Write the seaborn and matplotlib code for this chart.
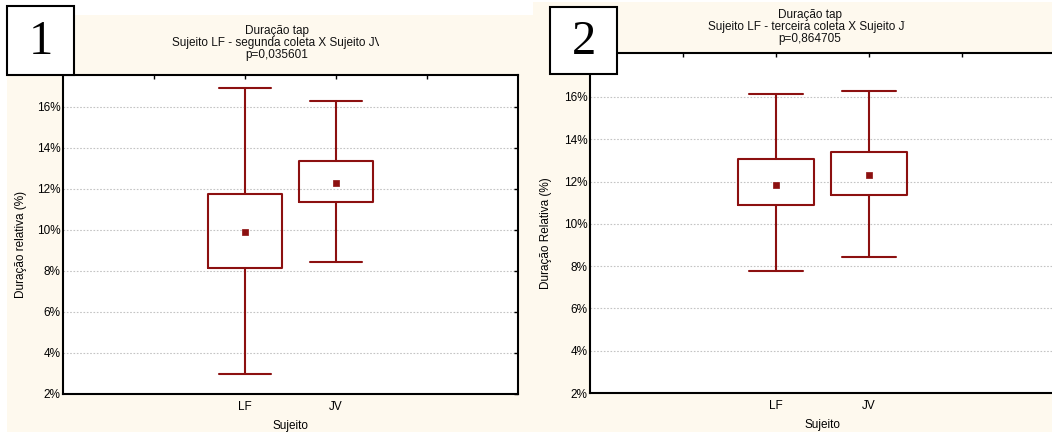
import numpy as np
import matplotlib
matplotlib.use("Agg")
import matplotlib.pyplot as plt
import seaborn as sns
from matplotlib.patches import Rectangle
from matplotlib.ticker import FuncFormatter
from matplotlib.transforms import Bbox, TransformedBbox

# ---------------- data ----------------
categories = ["LF", "JV"]

p1_mean = [9.9, 12.3]
p1_box_low = [8.15, 11.37]
p1_box_high = [11.77, 13.37]
p1_whisk_low = [2.98, 8.45]
p1_whisk_high = [16.9, 16.28]

p2_mean = [11.85, 12.3]
p2_box_low = [10.88, 11.37]
p2_box_high = [13.05, 13.38]
p2_whisk_low = [7.75, 8.45]
p2_whisk_high = [16.15, 16.3]

y_ticks = [2, 4, 6, 8, 10, 12, 14, 16]

p1_title = ["Duração tap", "Sujeito LF - segunda coleta X Sujeito JV", "p=0,035601"]
p2_title = ["Duração tap", "Sujeito LF - terceira coleta X Sujeito JV", "p=0,864705"]
p1_ylabel = "Duração relativa (%)"
p2_ylabel = "Duração Relativa (%)"
x_label = "Sujeito"

# ---------------- style ----------------
sns.set_theme(style="white")
plt.rcParams["font.family"] = ["Liberation Sans", "DejaVu Sans"]

RED = "#8C1010"
CREAM = "#FEF9EE"
W, H = 1052, 432

fig = plt.figure(figsize=(W / 100, H / 100), dpi=100)
fig.patch.set_facecolor("white")


def fx(px):
    return px / W


def fy(py):
    return 1 - py / H


def cream(x0, y0, x1, y1):
    fig.add_artist(Rectangle((fx(x0), fy(y1)), fx(x1) - fx(x0), fy(y0) - fy(y1),
                             transform=fig.transFigure, facecolor=CREAM,
                             edgecolor="none", zorder=0))


cream(7, 15, 533, 432)
cream(533, 2, 1052, 432)


def panel(rect_px, means, bl, bh, wl, wh, ylim_top, ylabel, ylabel_x, title, title_y,
          title_cx, clip_x, right_ticks):
    x0, top, x1, bottom = rect_px
    ax = fig.add_axes([fx(x0), fy(bottom), fx(x1) - fx(x0), fy(top) - fy(bottom)])
    ax.set_facecolor("white")
    pos = list(range(len(categories)))
    stats = [dict(med=m, q1=a, q3=b, whislo=c, whishi=d, label=cat)
             for m, a, b, c, d, cat in zip(means, bl, bh, wl, wh, categories)]
    lp = dict(color=RED, lw=1.5)
    ax.bxp(stats, positions=pos, widths=0.81, capwidths=0.58, showfliers=False,
           boxprops=lp, whiskerprops=lp, capprops=lp,
           medianprops=dict(visible=False), manage_ticks=False)
    sns.scatterplot(x=pos, y=means, marker="s", s=22, color=RED, edgecolor=RED,
                    linewidth=0.5, ax=ax, zorder=5)
    ax.set_xlim(-2, 3)
    ax.set_xticks([-1, 0, 1, 2])
    ax.set_xticklabels(["", categories[0], categories[1], ""])
    ax.set_ylim(2, ylim_top)
    ax.set_yticks(y_ticks)
    ax.yaxis.set_major_formatter(FuncFormatter(lambda v, p: f"{int(round(v))}%"))
    ax.tick_params(direction="in", length=3, width=1, top=True, right=right_ticks,
                   labelsize=8.5, colors="black", pad=2)
    ax.tick_params(axis="x", pad=5)
    ax.yaxis.grid(True, linestyle=(0, (1.5, 1.5)), color="#C4C4C4", lw=0.8)
    ax.xaxis.grid(False)
    ax.set_axisbelow(True)
    for s in ax.spines.values():
        s.set_visible(True)
        s.set_color("black")
        s.set_linewidth(1.5)
    ax.set_xlabel(x_label, fontsize=8.5, color="black", labelpad=5)
    ax.set_ylabel(ylabel, fontsize=8.5, color="black")
    ax.yaxis.set_label_coords((ylabel_x - x0) / (x1 - x0), 0.47)
    for i, (line, yy) in enumerate(zip(title, title_y)):
        t = fig.text(fx(title_cx), fy(yy), line, ha="center", va="center",
                     fontsize=8.5, color="#111111")
        if i == 1:
            t.set_clip_box(TransformedBbox(Bbox([[0, 0], [fx(clip_x), 1]]), fig.transFigure))
            t.set_clip_on(True)
    return ax


panel((63, 75, 518, 394), p1_mean, p1_box_low, p1_box_high, p1_whisk_low, p1_whisk_high,
      17.55, p1_ylabel, 27, p1_title, [31, 43, 55], 277, 379, True)
panel((590, 53, 1055, 393), p2_mean, p2_box_low, p2_box_high, p2_whisk_low, p2_whisk_high,
      18.08, p2_ylabel, 552, p2_title, [15, 27, 39], 810, 905, False)


def number_box(x0, y0, x1, y1, txt):
    fig.add_artist(Rectangle((fx(x0), fy(y1)), fx(x1) - fx(x0), fy(y0) - fy(y1),
                             transform=fig.transFigure, facecolor="white",
                             edgecolor="black", lw=1.5, zorder=10))
    fig.text(fx((x0 + x1) / 2), fy((y0 + y1) / 2 + 2), txt, ha="center", va="center",
             family=["Liberation Serif", "DejaVu Serif"], fontsize=35, color="black",
             zorder=11)


number_box(7, 6, 74, 75, "1")
number_box(550, 7, 617, 74, "2")

fig.savefig("out.png", dpi=100)
